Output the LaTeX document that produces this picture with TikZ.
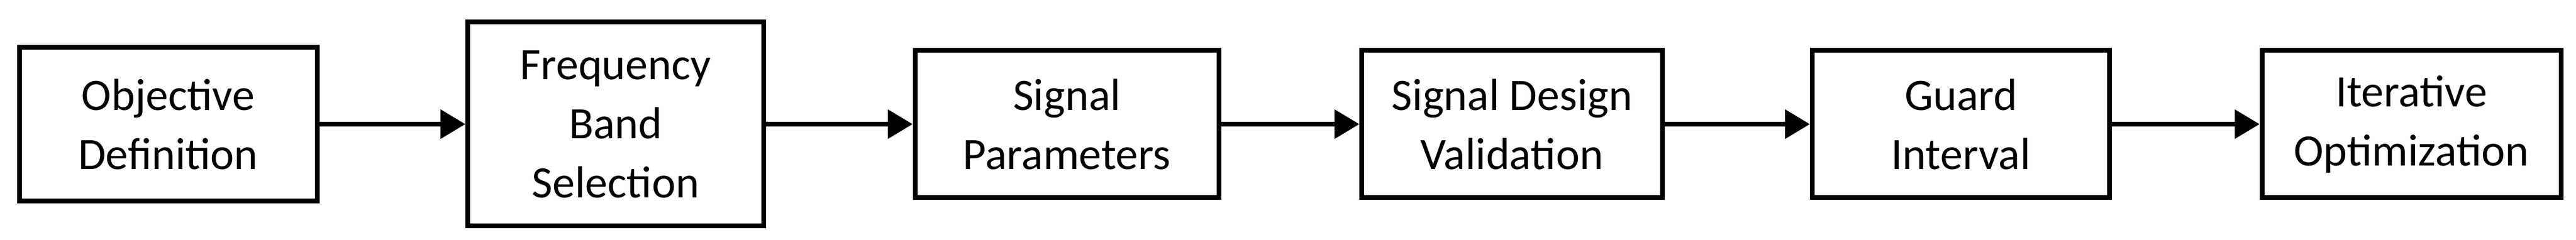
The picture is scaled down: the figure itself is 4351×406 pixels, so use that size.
\documentclass[tikz,border=0pt]{standalone}
\usepackage{fontspec}
\setmainfont{Carlito}
\usetikzlibrary{arrows.meta}
\begin{document}
\begin{tikzpicture}[x=1pt,y=1pt,
  blk/.style={draw=black,line width=8pt,fill=white,align=center,inner sep=0pt,
    font=\fontsize{76}{100}\selectfont},
  arr/.style={line width=8pt,-{Triangle[length=42pt,width=48pt]}}]
\useasboundingbox (0,0) rectangle (4351,406);
\node[blk,minimum width=503pt,minimum height=260pt] (a) at (284,196) {Objective\\Definition};
\node[blk,minimum width=500pt,minimum height=345pt] (b) at (1040,196) {Frequency\\Band\\Selection};
\node[blk,minimum width=513pt,minimum height=249pt] (c) at (1802,196) {Signal\\Parameters};
\node[blk,minimum width=508pt,minimum height=249pt] (d) at (2554,196) {Signal Design\\Validation};
\node[blk,minimum width=502pt,minimum height=249pt] (e) at (3312,196) {Guard\\Interval};
\node[blk,minimum width=505pt,minimum height=249pt] (f) at (4073,196) {Iterative\\Optimization};
\foreach \p/\q in {a/b,b/c,c/d,d/e,e/f} \draw[arr] (\p) -- (\q);
\end{tikzpicture}
\end{document}
